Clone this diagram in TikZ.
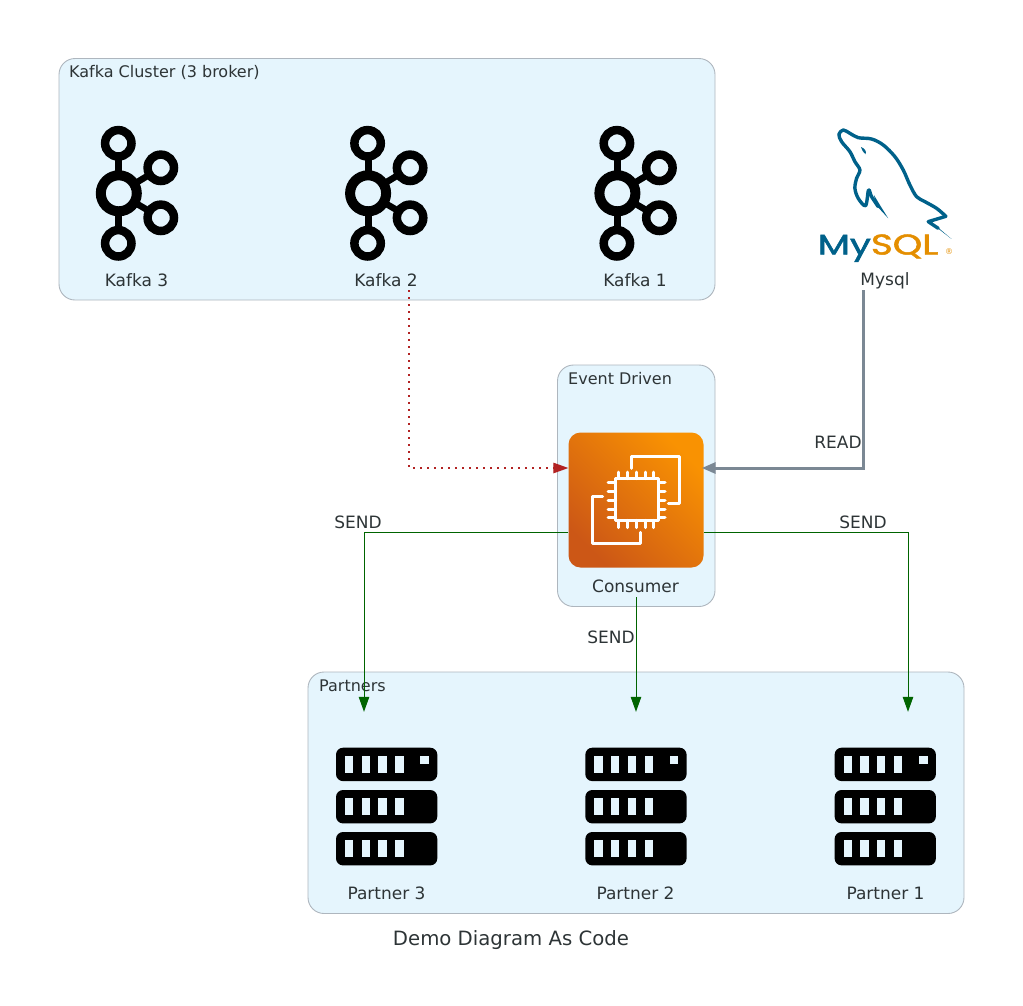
\documentclass[tikz,border=0pt]{standalone}
\usepackage{fontspec}
\setmainfont{DejaVu Sans}
\newfontfamily\logofont[FakeBold=1.6]{Poppins}
\usetikzlibrary{arrows.meta,positioning,calc}
\definecolor{clfill}{HTML}{E5F5FD}
\definecolor{clline}{HTML}{AEB6BE}
\definecolor{txt}{HTML}{2D3436}
\definecolor{slateedge}{HTML}{7B8894}
\definecolor{fire}{HTML}{B22222}
\definecolor{dgreen}{HTML}{006400}
\definecolor{sqlblue}{HTML}{00618A}
\definecolor{sqlorange}{HTML}{E48E00}
\definecolor{awsdark}{HTML}{CC5716}
\definecolor{awslight}{HTML}{F99202}
\tikzset{
  clusterbox/.style={draw=clline,fill=clfill,line width=0.9pt,rounded corners=16pt},
  clustertitle/.style={anchor=west,text=txt,font=\fontsize{16}{18}\selectfont,inner sep=0pt},
  nodetext/.style={text=txt,font=\fontsize{17}{19}\selectfont,inner sep=0pt},
  edgetext/.style={text=txt,font=\fontsize{17}{19}\selectfont,inner sep=0pt},
  iconbox/.style={minimum width=135pt,inner sep=0pt,draw=none},
  sendedge/.style={draw=dgreen,line width=1pt,-{Triangle[length=15pt,width=10.5pt]}},
  readedge/.style={draw=slateedge,line width=3pt,-{Triangle[length=14pt,width=11pt]},shorten >=-2pt},
  kafkaedge/.style={draw=fire,line width=1.2pt,dash pattern=on 1.5pt off 5.5pt,-{Triangle[length=15pt,width=10.5pt]}},
  kafka/.pic={
    \draw[line width=7pt] (0,-50) -- (0,50);
    \draw[line width=6.5pt] (0,0) -- (42,-25.5) (0,0) -- (42,24.5);
    \draw[line width=10pt,fill=clfill] (0,0) circle[radius=18pt];
    \draw[line width=8.5pt,fill=clfill] (-0.5,-50) circle[radius=13.2pt];
    \draw[line width=8.5pt,fill=clfill] (-0.5,50) circle[radius=13.2pt];
    \draw[line width=8.5pt,fill=clfill] (42,-25.5) circle[radius=13.2pt];
    \draw[line width=8.5pt,fill=clfill] (42,24.5) circle[radius=13.2pt];
  },
  server/.pic={
    \foreach \y in {0,42.3,84.3}{
      \fill[black,rounded corners=7pt] (0,\y) rectangle (101.3,\y+33.4);
      \foreach \x in {9,25.7,42.3,59.3}
        \fill[clfill] (\x,\y+8.3) rectangle (\x+8.4,\y+25);
    }
    \fill[clfill] (84.3,8.3) rectangle (93,16.6);
  },
}
\begin{document}
\begin{tikzpicture}[x=1pt,y=-1pt]
\useasboundingbox (0,0) rectangle (1023,1005);

% clusters
\draw[clusterbox] (59,58.5) rectangle (715,300);
\draw[clusterbox] (557.5,365) rectangle (715,606.5);
\draw[clusterbox] (308,672) rectangle (964,913.5);
\node[clustertitle] (kafkatitle) at (69,72.5) {Kafka Cluster (3 broker)};
\node[clustertitle] (eventtitle) at (568,378.5) {Event Driven};
\node[clustertitle] (partnerstitle) at (319,686) {Partners};

% node boxes (connection frames)
\node[iconbox,minimum height=165pt] (k3) at (136.5,207.5) {};
\node[iconbox,minimum height=165pt] (k2) at (386,207.5) {};
\node[iconbox,minimum height=165pt] (k1) at (635,207.5) {};
\node[iconbox,minimum height=165pt] (mysql) at (885,207.5) {};
\node[iconbox,minimum height=164.5pt] (consumer) at (636,514.75) {};
\node[iconbox,minimum height=190pt] (p3) at (386.5,807) {};
\node[iconbox,minimum height=190pt] (p2) at (636,807) {};
\node[iconbox,minimum height=190pt] (p1) at (885.5,807) {};

% kafka icons
\pic at (118.8,193.3) {kafka};
\pic at (368.1,193.3) {kafka};
\pic at (617.4,193.3) {kafka};
\node[nodetext] (k3label) at (136.5,280.5) {Kafka 3};
\node[nodetext] (k2label) at (386,280.5) {Kafka 2};
\node[nodetext] (k1label) at (635,280.5) {Kafka 1};

% mysql logo
\begin{scope}[x=0.3333pt,y=-0.3333pt,shift={(2400,345)}]
  \draw[sqlblue,line width=3.4pt,line join=round,line cap=round]
    plot[smooth,tension=0.55] coordinates {(235,275)(215,245)(206,225)(197,272)(175,250)(165,220)(170,190)(180,165)(165,140)(150,110)(125,80)(117,58)(130,45)(150,55)(175,68)(215,72)(250,90)(285,125)(310,165)(330,210)(350,245)(375,260)(410,280)(438,304)};
  \draw[sqlblue,line width=3.4pt,line join=round,line cap=round]
    (438,304) -- (385,320) -- (415,340);
  \fill[sqlblue] (410,334) -- (455,372) -- (420,345) -- cycle;
  \fill[sqlblue] (228,270) -- (265,310) -- (240,270) -- (222,240) -- cycle;
  \fill[sqlblue] (183,96) .. controls (195,100) and (200,108) .. (197,118) .. controls (190,112) and (185,105) .. (183,96) -- cycle;
\end{scope}
\node[inner sep=0pt,anchor=base west,font=\logofont\fontsize{28.5}{30}\selectfont,xscale=1.31] (mysqlword) at (817.5,254.5) {\textcolor{sqlblue}{My}\textcolor{sqlorange}{SQL}};
\node[inner sep=0pt,text=sqlorange,font=\fontsize{8}{9}\selectfont] (mysqlreg) at (949,251.5) {®};
\node[nodetext] (mysqllabel) at (885,280.5) {Mysql};

% EC2 icon
\shade[rounded corners=12pt,bottom color=awsdark,top color=awslight,shading angle=-45] (568.5,432.5) rectangle (703.5,567.5);
\begin{scope}[draw=white,line width=3pt,line cap=round,line join=round]
  \draw (631.7,468.3) -- (631.7,456.7) -- (679,456.7) -- (679,503.3) -- (668.3,503.3);
  \draw (602.7,496) -- (592.7,496) -- (592.7,543.3) -- (640,543.3) -- (640,532.3);
  \draw (615.5,478.7) rectangle (658.7,520.3);
  \foreach \x in {618,627,636,645,653.7}{
    \draw (\x,472) -- (\x,478.7);
    \draw (\x,520.3) -- (\x,527.5);
  }
  \foreach \y in {482,491,500,509,517.7}{
    \draw (608,\y) -- (615.5,\y);
    \draw (658.7,\y) -- (665,\y);
  }
\end{scope}
\node[nodetext] (consumerlabel) at (635.5,586.5) {Consumer};

% servers
\pic at (336,747.7) {server};
\pic at (585.3,747.7) {server};
\pic at (834.6,747.7) {server};
\node[nodetext] (p3label) at (386.5,893) {Partner 3};
\node[nodetext] (p2label) at (635.5,893) {Partner 2};
\node[nodetext] (p1label) at (885.5,893) {Partner 1};

% connectors
\draw[kafkaedge] ([xshift=23pt]k2.south) |- ([yshift=46.75pt]consumer.west);
\draw[readedge] ([xshift=-22pt]mysql.south) |- ([yshift=46.75pt]consumer.east);
\draw[sendedge] ([yshift=-17.25pt]consumer.west) -| ([xshift=-22.5pt]p3.north);
\draw[sendedge] (consumer.south) -- (p2.north);
\draw[sendedge] ([yshift=-17.25pt]consumer.east) -| ([xshift=22.5pt]p1.north);

% edge labels
\node[edgetext] (readlabel) at (838,442.5) {READ};
\node[edgetext] (send3) at (358,522.5) {SEND};
\node[edgetext] (send2) at (611,637.5) {SEND};
\node[edgetext] (send1) at (863,522.5) {SEND};

% title
\node[text=txt,font=\fontsize{19.7}{22}\selectfont,inner sep=0pt] (title) at (511,940) {Demo Diagram As Code};
\end{tikzpicture}
\end{document}
